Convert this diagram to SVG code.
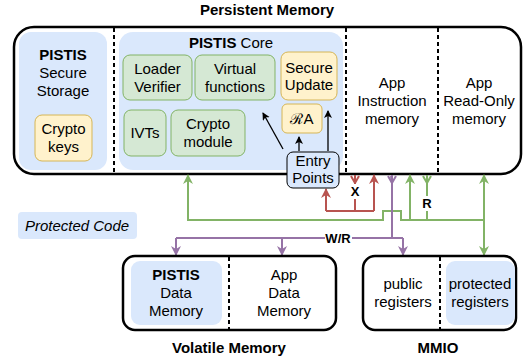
<svg xmlns="http://www.w3.org/2000/svg" width="529" height="362" viewBox="0 0 529 362">
<defs>
<style>
text{font-family:"Liberation Sans",Arial,sans-serif;font-size:15px;fill:#000;text-anchor:middle}
.b{font-weight:bold}
.lbl{font-weight:bold;font-size:13px}
.frame{fill:#fff;stroke:#000;stroke-width:2.5}
.div{stroke:#000;stroke-width:2;stroke-dasharray:4 3;fill:none}
.blue{fill:#dae8fc;stroke:none}
.green{fill:#d5e8d4;stroke:#82b366;stroke-width:1}
.yellow{fill:#fff2cc;stroke:#d6b656;stroke-width:1}
.gl{stroke:#82b366;stroke-width:2;fill:none}
.rl{stroke:#b85450;stroke-width:2;fill:none}
.pl{stroke:#9673a6;stroke-width:2;fill:none}
.kl{stroke:#000;stroke-width:1.3;fill:none}
</style>
<marker id="ag" markerWidth="10" markerHeight="10" refX="9" refY="5" orient="auto" markerUnits="userSpaceOnUse"><path d="M0,0 L10,5 L0,10 L3,5 z" fill="#82b366"/></marker>
<marker id="ar" markerWidth="10" markerHeight="10" refX="9" refY="5" orient="auto" markerUnits="userSpaceOnUse"><path d="M0,0 L10,5 L0,10 L3,5 z" fill="#b85450"/></marker>
<marker id="ap" markerWidth="10" markerHeight="10" refX="9" refY="5" orient="auto" markerUnits="userSpaceOnUse"><path d="M0,0 L10,5 L0,10 L3,5 z" fill="#9673a6"/></marker>
<marker id="ak" markerWidth="8" markerHeight="8" refX="7" refY="4" orient="auto" markerUnits="userSpaceOnUse"><path d="M0,0 L8,4 L0,8 L2,4 z" fill="#000"/></marker>
</defs>

<text class="b" x="267" y="15">Persistent Memory</text>

<g id="persistent-memory">
<rect class="frame" x="14" y="27" width="507" height="147" rx="20"/>
<line class="div" x1="114" y1="28" x2="114" y2="173"/>
<line class="div" x1="346" y1="28" x2="346" y2="173"/>
<line class="div" x1="438" y1="28" x2="438" y2="173"/>
</g>

<g id="secure-storage">
<rect class="blue" x="19" y="32" width="88" height="138" rx="12"/>
<text class="b" x="63" y="60">PISTIS</text>
<text x="63" y="78">Secure</text>
<text x="63" y="96">Storage</text>
</g>
<g id="crypto-keys">
<rect class="yellow" x="35" y="115" width="57" height="46" rx="7"/>
<text x="63.5" y="134">Crypto</text>
<text x="63.5" y="152">keys</text>
</g>

<g id="pistis-core">
<rect class="blue" x="119" y="32" width="224" height="138" rx="14"/>
<text x="231" y="48"><tspan class="b">PISTIS</tspan> Core</text>
</g>
<g id="loader-verifier">
<rect class="green" x="123" y="55" width="69" height="45" rx="7"/>
<text x="157.5" y="74">Loader</text>
<text x="157.5" y="92">Verifier</text>
</g>
<g id="virtual-functions">
<rect class="green" x="195" y="55" width="80" height="45" rx="7"/>
<text x="235" y="74">Virtual</text>
<text x="235" y="92">functions</text>
</g>
<g id="secure-update">
<rect class="yellow" x="281" y="52" width="56" height="48" rx="7"/>
<text x="309" y="73">Secure</text>
<text x="309" y="90">Update</text>
</g>
<g id="ra">
<rect class="yellow" x="282" y="104" width="40" height="29" rx="5"/>
<text x="302" y="124">ℛA</text>
</g>
<g id="ivts">
<rect class="green" x="124" y="110" width="42" height="46" rx="7"/>
<text x="145" y="138">IVTs</text>
</g>
<g id="crypto-module">
<rect class="green" x="171" y="110" width="74" height="46" rx="7"/>
<text x="208" y="129">Crypto</text>
<text x="208" y="147">module</text>
</g>

<g id="app-instruction-memory">
<text x="392" y="88">App</text>
<text x="392" y="106">Instruction</text>
<text x="392" y="124">memory</text>
</g>
<g id="app-readonly-memory">
<text x="479" y="88">App</text>
<text x="479" y="106">Read-Only</text>
<text x="479" y="124">memory</text>
</g>

<g id="protected-code-legend">
<rect class="blue" x="18" y="212" width="119" height="27" rx="4"/>
<text x="77" y="231" font-style="italic">Protected Code</text>
</g>

<g id="connectors">
<!-- entry point arrows -->
<line class="kl" x1="283" y1="149" x2="263" y2="113" marker-end="url(#ak)"/>
<line class="kl" x1="299" y1="151" x2="299" y2="137" marker-end="url(#ak)"/>
<line class="kl" x1="328" y1="151" x2="328" y2="111" marker-end="url(#ak)"/>

<!-- green -->
<polyline class="gl" points="188,175 188,220 383,220 383,211 401,211 401,220 484,220"/>
<line class="gl" x1="188" y1="200" x2="188" y2="175" marker-end="url(#ag)"/>
<line class="gl" x1="410" y1="220" x2="410" y2="175" marker-end="url(#ag)"/>
<line class="gl" x1="427" y1="175" x2="427" y2="220"/>
<polyline class="gl" points="423,176 427,183 431,176" stroke-width="1.5"/>
<line class="gl" x1="484" y1="200" x2="484" y2="175" marker-end="url(#ag)"/>
<line class="gl" x1="484" y1="200" x2="484" y2="255" marker-end="url(#ag)"/>

<!-- red -->
<polyline class="rl" points="326,211 374,211"/>
<line class="rl" x1="326" y1="211" x2="326" y2="189" marker-end="url(#ar)"/>
<line class="rl" x1="374" y1="211" x2="374" y2="175" marker-end="url(#ar)"/>
<line class="rl" x1="355" y1="175" x2="355" y2="211"/>
<polyline class="rl" points="351,176 355,183 359,176" stroke-width="1.5"/>

<!-- purple -->
<line class="pl" x1="392" y1="175" x2="392" y2="238"/>
<polyline class="pl" points="391,176 392,183" stroke-width="0"/>
<polyline class="pl" points="388,176 392,183 396,176" stroke-width="1.5"/>
<polyline class="pl" points="176,238 403,238"/>
<line class="pl" x1="176" y1="238" x2="176" y2="255" marker-end="url(#ap)"/>
<line class="pl" x1="282" y1="238" x2="282" y2="255" marker-end="url(#ap)"/>
<line class="pl" x1="403" y1="238" x2="403" y2="255" marker-end="url(#ap)"/>

<!-- labels -->
<rect x="348" y="184" width="14" height="15" fill="#fff"/>
<text class="lbl" x="355" y="196">X</text>
<rect x="420" y="196" width="14" height="15" fill="#fff"/>
<text class="lbl" x="427" y="208">R</text>
<rect x="325" y="231" width="27" height="15" fill="#fff"/>
<text class="lbl" x="338" y="243">W/R</text>
</g>

<g id="entry-points">
<rect x="287" y="152" width="52" height="36" rx="6" fill="#dae8fc" stroke="#000" stroke-width="1"/>
<text x="313" y="166">Entry</text>
<text x="313" y="183">Points</text>
</g>

<g id="volatile-memory">
<rect class="frame" x="123" y="256" width="213" height="74" rx="12"/>
<line class="div" x1="229" y1="257" x2="229" y2="329"/>
<rect class="blue" x="131" y="261" width="91" height="64" rx="9"/>
<text class="b" x="176" y="280">PISTIS</text>
<text x="176" y="298">Data</text>
<text x="176" y="316">Memory</text>
<text x="284" y="280">App</text>
<text x="284" y="298">Data</text>
<text x="284" y="316">Memory</text>
<text class="b" x="229" y="353">Volatile Memory</text>
</g>

<g id="mmio">
<rect class="frame" x="363" y="256" width="153" height="74" rx="12"/>
<line class="div" x1="440" y1="257" x2="440" y2="329"/>
<rect class="blue" x="446" y="261" width="69" height="64" rx="9"/>
<text x="403" y="289">public</text>
<text x="403" y="307">registers</text>
<text x="480" y="289">protected</text>
<text x="480" y="307">registers</text>
<text class="b" x="438" y="353">MMIO</text>
</g>
</svg>
